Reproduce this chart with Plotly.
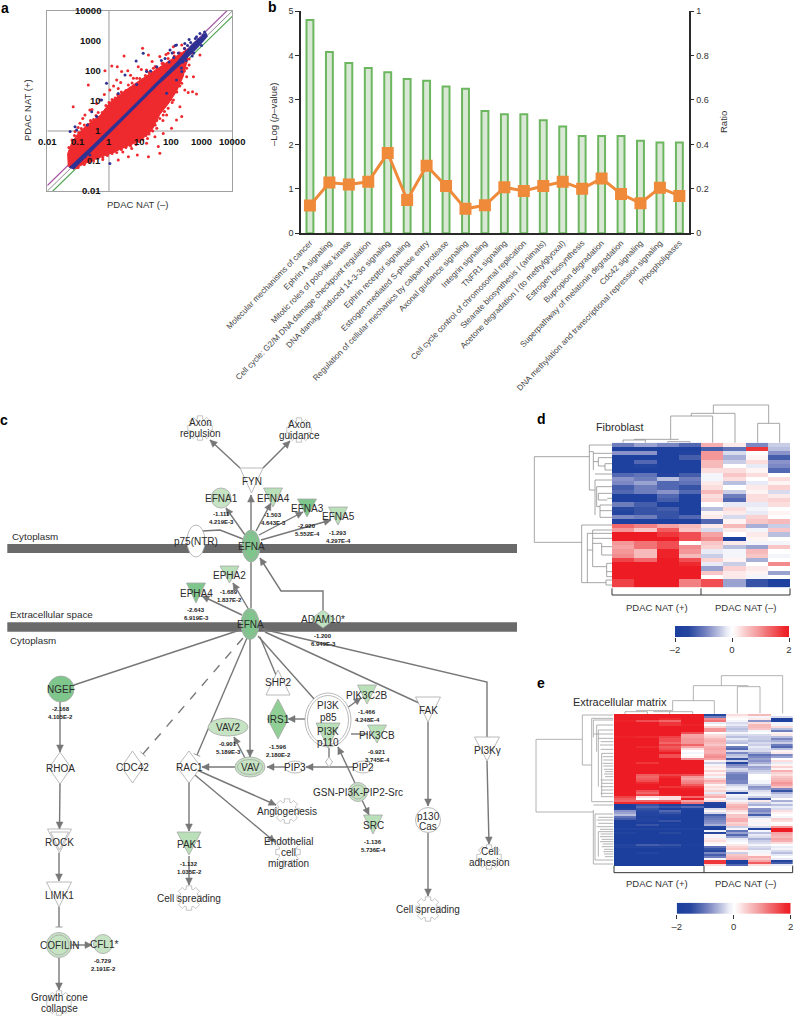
import math
import plotly.graph_objects as go

W, H = 794, 1017
FONT = "Liberation Sans"

# ---------- panel a (log10 values) ----------
CLOUD_LX = [-1.32,-1.34,-1.23,-1.05,-0.72,-0.29,0.03,0.46,0.90,1.22,1.65,1.98,2.2,2.5,2.55,2.4,2.19,1.92,1.65,1.38,1.0,0.57,0.03,-0.51,-0.94,-1.16]
CLOUD_LY = [-1.19,-0.76,-0.45,-0.14,0.2,0.52,0.95,1.3,1.62,1.85,2.13,2.36,2.5,2.7,2.4,1.8,1.32,0.9,0.55,0.0,-0.33,-0.52,-0.76,-0.96,-1.17,-1.27]
BAND_LX = [-1.30,-0.5,0.5,1.5,2.2,2.7,3.15,3.2,2.85,2.3,1.6,0.6,-0.4,-1.15]
BAND_LY = [-1.22,-0.45,0.55,1.56,2.3,2.9,3.28,3.15,2.74,2.2,1.54,0.52,-0.5,-1.28]
RED_LX = [1.09,-.13,.09,.27,.41,.61,.49,-.67,-1.16,.25,.79,.95,1.28,1.22,1.65,1.92,2.09,2.36,-.29,-.62,-.78,-.94,-1.1,.03,.3,.63,.9,1.44,1.76,
          2.36,2.57,2.71,2.84,2.52,2.74,2.95,2.09,1.92,1.87,1.55,1.65,1.6,1.22,1.28,.92,.63,.74,.3,1.49,1.76,2.03,2.19,1.76,1.55,2.3,2.46,2.36,2.52,
          -1.0,-.85,-.55,-.4,-.15,.15,.38,.7,1.05,1.4,1.55,1.85,2.1,2.45,2.6,2.0,1.75,1.45,1.2,.85,.45,.15,-.2,-.7,-1.05,
          -1.3,-1.2,-1.12,-.98,-.9,-.8,-.68,-.6,-.5,-.42,-.35,-.22,-.1,0,.1,.2,.28,.4,.55,.62,.75,.82,1.0,1.1,1.18,1.3,1.42,1.5,1.6,1.72,1.8,1.92,2.0,2.12,2.2,2.3,2.4,2.55,
          2.7,2.6,2.5,2.45,2.35,2.3,2.25,2.2,2.1,2.0,2.05,1.9,1.8,1.72,1.65,1.55,1.5,1.42,1.3,1.25,1.1,.98,.88,.7,.55,.4,.25,.1,-.05,-.2,-.35,-.5,-.62,-.8,-1.0]
RED_LY = [2.76,2.01,2.17,2.14,1.98,2.01,2.5,1.53,.81,1.7,1.76,2.14,2.53,2.03,2.48,2.59,2.81,2.87,1.03,.7,.53,.26,-.02,1.37,1.42,1.53,1.76,2.09,2.26,
          .48,1.28,1.31,1.23,1.81,1.81,2.53,1.03,.76,.53,.09,-.74,-.52,-.41,-.86,-.8,-.86,-.58,-.97,-.19,-.08,.09,.37,.53,.7,.81,1.37,1.59,2.09,
          .12,.42,.72,.92,1.22,1.5,1.62,1.86,2.05,2.32,2.1,2.55,2.62,2.75,2.2,1.05,.35,.2,-.15,-.25,-.7,-.68,-.95,-1.0,-1.22,
          -.55,-.3,-.15,-.05,.08,.2,.22,.35,.38,.52,.62,.62,.85,.95,1.05,1.1,1.22,1.3,1.35,1.28,1.6,1.5,1.75,1.7,1.85,1.95,1.95,2.15,2.05,2.25,2.18,2.42,2.3,2.5,2.42,2.6,2.55,2.7,
          2.6,2.4,2.3,2.0,1.85,1.5,1.7,1.3,1.35,1.2,.95,.95,.65,.8,.42,.35,.2,0,-.1,-.25,-.28,-.35,-.45,-.5,-.55,-.62,-.72,-.75,-.82,-.88,-.9,-1.0,-1.02,-1.12,-1.22]
BLUE_LX = [1.11,.88,-.08,.52,-.24,-.56,-.4,-1.05,-1.26,-1.1,1.22,1.55,1.82,1.98,2.19,2.46,2.52,2.84,3.06,.03,-.78,1.87,2.19,2.36,-.62,
           .9,.3,-.7,1.35,1.7,2.05,2.6,2.7,2.95,3.0,2.35,2.15,2.25,2.45,2.55,2.65,2.8,2.9,3.1,2.4,2.5,2.75,1.95,2.1]
BLUE_LY = [2.59,2.33,1.59,1.87,1.03,.64,.48,.03,-.02,.14,1.98,2.14,2.42,2.7,2.87,2.92,2.64,3.14,3.2,-1.08,-.86,1.26,1.7,1.98,-.8,
           1.55,1.25,.2,2.0,2.35,2.6,3.05,2.5,3.25,2.85,2.1,2.85,2.6,2.75,2.85,2.95,3.08,3.05,3.3,2.3,2.35,2.6,2.3,2.45]
A_TICKS = [0.01, 0.1, 1, 10, 100, 1000, 10000]
FOLD = 0.18

# ---------- panel b ----------
PATHWAYS = ["Molecular mechanisms of cancer","Ephrin A signaling","Mitotic roles of polo-like kinase",
 "Cell cycle: G2/M DNA damage checkpoint regulation","DNA damage-induced 14-3-3σ signaling","Ephrin receptor signaling",
 "Estrogen-mediated S-phase entry","Regulation of cellular mechanics by calpain protease","Axonal guidance signaling",
 "Integrin signaling","TNFR1 signaling","Cell cycle control of chromosomal replication","Stearate biosynthesis I (animals)",
 "Acetone degradation I (to methylglyoxal)","Estrogen biosynthesis","Bupropion degradation",
 "Superpathway of melatonin degradation","Cdc42 signaling","DNA methylation and transcriptional repression signaling","Phospholipases"]
LOGP = [4.8,4.08,3.83,3.72,3.62,3.47,3.43,3.3,3.25,2.75,2.68,2.68,2.54,2.4,2.19,2.19,2.19,2.08,2.04,2.04]
RATIO = [.125,.228,.22,.232,.361,.15,.304,.213,.11,.126,.207,.19,.213,.232,.2,.247,.177,.135,.205,.168]

# ---------- panel d ----------
D_ROWS = [
[-1.0,-.7,-.9,-1.2,.7,.2,-.9,-.4],[-1.9,-1.8,-1.9,-1.9,-1.3,-1.1,1.7,-.5],[-.8,-.8,-1.9,-1.7,.9,-.3,0,-.8],
[-1.9,-1.9,-1.9,-1.3,.9,-.6,.1,-1.3],[-1.9,-1.2,-1.9,-1.9,.6,-.4,.3,-.8],[-1.9,-1.6,-1.9,-1.9,.6,0,-.2,-.9],
[-1.9,-1.9,-1.9,-1.9,.3,.3,.1,-1.2],[-1.2,-1.1,-1.7,-1.3,-.1,.5,.3,0],[-.8,-1.0,-.5,-1.0,-.1,.3,0,.3],
[-.9,-.7,-1.2,-1.1,.2,-.5,-.2,.1],[-1.3,-1.0,-1.2,-1.4,.3,0,.2,.4],[-1.2,-1.0,-.8,-1.2,.6,-.4,.1,-.3],
[-1.9,-1.9,-1.2,-1.9,.3,-1.0,.3,.2],[-1.9,-1.9,-1.3,-1.9,.4,-1.2,.3,.4],[-1.0,-1.3,-1.9,-1.9,0,-.2,-.2,.3],
[-1.5,-1.4,-1.3,-1.9,-.5,.3,-.1,0],[-1.6,-1.4,-1.4,-1.9,.1,.2,-.2,.1],[-.9,-1.0,-1.4,-1.2,.2,-.3,.4,0],
[-1.9,-1.9,-1.9,-1.9,-1.2,.1,.5,.6],[1.3,1.1,.8,.6,.2,.6,-.6,-.4],[.9,.5,1.4,.5,-.3,.2,-.1,.5],
[2,2,1.7,1.5,.8,0,.2,-.5],[2,2,2,1.5,1.0,-1.9,.1,0],[.9,1.2,1.5,0,.5,.2,-.1,-.1],
[.8,1.2,1.5,1.0,.4,-.5,-.7,.5],[.9,.6,1.9,.9,-.2,-.1,.6,0],[1.0,.6,1.9,.6,-.4,-.1,.5,-.1],
[1.6,1.3,2,1.5,.4,.1,-.6,0],[2,2,2,1.8,-.2,-.4,0,1.0],[2,2,2,2,-.7,.4,.2,0],
[2,2,2,2,.5,.2,.1,-.7],[2,2,2,2,0,.2,-.1,0],[1.6,2,2,1.1,1.5,-.7,-1.4,-1.9],[1.6,2,2,1.1,1.5,-.7,-1.4,-1.9]]

# ---------- panel e (tenths) ----------
E_ROWS = [
[20,20,20,20,-15,3,6,0],[20,20,20,20,-10,1,-1,-3],[20,20,18,20,10,0,2,-19],[19,15,13,20,12,-1,-8,-19],
[20,20,17,20,-2,-3,3,-1],[20,20,17,19,0,-2,6,-1],[20,20,20,20,4,-4,6,3],[20,20,20,20,9,-5,5,-5],
[20,20,20,20,9,-4,-1,-10],[20,20,20,15,0,-1,0,1],[20,20,20,8,3,-3,-3,2],[19,18,16,8,4,-5,-4,-5],
[20,20,15,9,6,-2,-4,-9],[20,20,15,9,7,-4,-5,-6],[20,20,13,9,6,-5,-3,-4],[20,20,16,13,5,0,-4,-10],
[20,18,14,8,7,-10,-2,-12],[20,20,15,3,8,-12,-3,-5],[20,20,17,0,7,-3,-3,1],[20,20,20,-1,7,-9,-6,2],
[20,20,15,0,9,-5,-11,-9],[20,20,15,1,10,-4,-9,-7],[20,20,20,10,8,-14,-7,0],[20,20,20,20,1,-4,-8,3],
[20,17,20,20,-4,-16,-6,-2],[20,20,20,20,-1,-9,-3,1],[20,20,20,20,2,-7,-7,4],[20,20,20,20,1,-3,-6,1],
[20,20,20,20,4,-4,-4,7],[20,20,20,20,1,-8,-3,4],[20,14,16,15,3,-10,0,3],[20,13,18,9,-1,-10,0,5],
[20,14,20,8,4,-10,0,6],[20,15,20,10,7,-9,-1,7],[20,18,20,11,5,-9,-1,9],[20,20,20,14,1,-4,-4,8],
[20,20,17,17,3,-2,-8,5],[20,20,20,19,2,-1,-7,-9],[20,15,20,20,4,-3,-3,-14],[20,13,20,20,-2,-15,-2,-6],
[20,16,19,20,5,-1,-1,-3],[16,3,3,13,7,-2,-4,-3],[14,0,3,20,1,-3,-13,0],[13,13,13,8,3,-1,2,-6],
[18,19,20,12,-16,3,-4,-2],[-20,-14,-18,-16,-18,6,-6,-5],[-20,-12,-14,-12,-18,7,-1,-2],[-18,-14,-20,-18,-3,6,-8,-3],
[-8,-15,-12,-20,1,3,-9,3],[-7,-16,-14,-20,-3,1,-7,1],[-5,-16,-17,-20,-13,5,-13,0],[-11,-18,-19,-20,-11,5,-4,-1],
[-13,-16,-20,-20,-10,7,-1,4],[-20,-17,-14,-20,-9,7,1,3],[-20,-20,-20,-20,-8,4,-1,0],[-20,-14,-19,-20,-6,5,1,1],
[-20,-20,-20,-20,-16,-4,-3,9],[-17,-17,-17,-17,-20,-1,-16,20],[-20,-20,-20,-20,-1,-11,-1,20],[-16,-20,-15,-20,-15,-7,-5,8],
[-20,-20,-20,-20,1,-12,-2,7],[-20,-20,-20,-20,-1,-7,-3,6],[-20,-20,-20,-20,2,-2,-6,8],[-20,-20,-20,-20,3,-1,-4,7],
[-20,-20,-20,-20,1,0,-3,3],[-16,-13,-14,-19,0,2,-1,0],[-17,-16,-16,-20,-11,4,-3,-2],[-20,-20,-20,-20,-14,5,-4,-1],
[-20,-20,-20,-20,-15,1,-1,-3],[-20,-16,-20,-20,-9,-4,-1,-5],[-20,-20,-20,-20,-13,5,1,-2],[-20,-20,-20,-20,-10,6,7,0],
[-20,-20,-20,-20,-1,7,5,-2],[-20,-20,-20,-20,17,-18,8,-16],[-20,-20,-20,-20,17,-19,14,-13],[-20,-20,-20,-20,3,-12,3,-2]]
SCALE_VALUES = [-2,-1.8,-1.6,-1.4,-1.2,-1,-.8,-.6,-.4,-.2,-.1,0,.1,.2,.4,.6,.8,1,1.2,1.4,1.6,1.8,2]
COLORSCALE = [[0,"#1c3f9e"],[.12,"#26469f"],[.3,"#8a93c9"],[.45,"#e8eaf5"],[.5,"#ffffff"],[.55,"#fce9e9"],[.75,"#f28b8d"],[.95,"#ee2a2f"],[1,"#ed1c24"]]

# ---------- panel c: pathway nodes ----------
MID, LIGHT, PALE = "#7fc68c", "#b9e0b8", "#c6e3c4"
# name, kind, x, y, half-width, half-height, fill
NODES = [
("FYN","tri",251.5,468,11.5,25,"#fff"),("EFNA1","circle",221,498,10,10,PALE),("EFNA4","tri",273,488,9.5,19,LIGHT),
("EFNA3","tri",307,499,9.5,18,MID),("EFNA5","tri",338,507,9.5,18,LIGHT),("p75(NTR)","ell",196,541,9,16,"#fff"),
("EFNA","ell2",251,546,9,16,MID),("EPHA2","tri",229.5,566,9.5,17,LIGHT),("EPHA4","tri",196,583,9.5,20,MID),
("EFNA","ell2",250,624,9,15.5,MID),("ADAM10*","dia",323,619,12,9,"#bfe3c0"),("NGEF","circle",61,689,13,13,MID),
("SHP2","triup",278,670,12,25,"#fff"),("PIK3C2B","tri",367,685,9.5,19,LIGHT),("IRS1","dia",278,719,10.5,20,"#8fcf95"),
("PIK3CB","tri",377,725,9.5,18,LIGHT),("FAK","tri",428,697,12.5,25,"#fff"),("PI3Kγ","tri",487,737,12.5,24,"#fff"),
("VAV2","ell",228,727,20,9,PALE),("VAV","ell2",250,767,15,10,PALE),("RAC1","dia",189,767,12,16,"#fff"),
("CDC42","dia",132.5,767,11,16,"#fff"),("RHOA","dia",60,768,11,16,"#fff"),("ROCK","tri2",59.5,829,12,24,"#fff"),
("LIMK1","tri",59,882,12.5,25,"#fff"),("COFILIN","circle2",59,945,12.5,12.5,PALE),("CFL1*","circle",103,944,9.5,9.5,PALE),
("PAK1","tri",189,832,12,23,LIGHT),("PIP3","ell",295,767,10,6,"#fff"),("PIP2","ell",363,767,10,6,"#fff"),
("","dia",329,762,3.5,5,"#fff"),("GSN-PI3K-PIP2-Src","circle2",358,792,9.5,9.5,PALE),("SRC","tri",373,815,9.5,19,LIGHT),
("","ell2",328,720,23,27,"#fff"),("","tri",328,723,12,25,LIGHT),
]
LABEL_OFFSETS = {"FYN":(0,13),"EFNA4":(0,10),"EFNA3":(0,9),"EFNA5":(0,9),"EPHA2":(0,9),"EPHA4":(0,10),"SHP2":(0,12),
 "PIK3C2B":(-1,10),"PIK3CB":(0,10),"FAK":(0,13),"PI3Kγ":(0,13),"ROCK":(0,13),"LIMK1":(0,13),"PAK1":(0,12),"SRC":(0,10),"CFL1*":(1,0)}
STATS = [("-1.111","4.219E-3",221,514),("-1.503","4.643E-3",273,515),("-2.920","5.552E-4",307,526),("-1.293","4.297E-4",338,533),
 ("-1.689","1.837E-2",229,592),("-2.643","6.919E-3",196,610),("-1.200","6.949E-3",323,636),("-2.168","4.105E-2",60.5,709),
 ("-1.466","4.248E-4",367,712),("-1.596","2.180E-2",278,747),("-0.921","3.745E-4",377,752),("-0.901","5.189E-3",228,744),
 ("-0.729","2.191E-2",103,961),("-1.132","1.035E-2",189,864),("-1.136","5.736E-4",373,842)]
FUNCTIONS = [(["Axon","repulsion"],200,428),(["Axon","guidance"],299,430),(["Cell spreading"],189,898),(["Cell spreading"],428,909),
 (["Angiogenesis"],287,811),(["Endothelial","cell","migration"],288,852),(["Cell","adhesion"],489,857),(["Growth cone","collapse"],59,1003)]
# points of an edge, end kind
EDGES = [
([(251,608),(251,562)],None),([(251,530),(251,495)],"a"),([(240,468),(210,440)],"a"),([(263,468),(290,441)],"a"),
([(245,535),(226,508)],"a"),([(256,531),(271,503)],"a"),([(259,535),(303,512)],"a"),([(261,540),(331,520)],"a"),
([(202,531),(220,530),(243,539)],None),([(249,610),(233,583)],"a"),([(242,615),(202,596)],"a"),
([(323,610),(323,591),(281,591),(260,558)],"a"),([(240,630),(74,685)],None),([(60,702),(60,752)],"a"),
([(60,783),(59.5,829)],"a"),([(59,853),(59,881)],"a"),([(59,907),(59,927)],"t"),([(59,958),(59,990)],"a"),([(72,945),(92,945)],"a"),
([(243,638),(143,754)],"td"),([(247,638),(197,755)],"t"),([(250,639),(250,757)],"a"),([(245,758),(234,737)],"a"),
([(236,767),(202,767)],"a"),([(285,767),(267,767)],"a"),([(353,767),(306,767)],"a"),([(189,782),(189,831)],"a"),
([(189,856),(189,885)],"a"),([(197,770),(276,805)],"a"),([(195,775),(275,842)],"a"),([(260,637),(276,675)],None),
([(258,636),(315,700)],None),([(265,632),(419,703)],None),([(262,629),(487,682),(487,737)],None),([(305,719),(288,719)],"a"),
([(347,708),(361,698)],"a"),([(368,734),(351,734)],None),([(329,748),(329,757)],None),
([(355,783),(338,747)],"a"),([(362,800),(369,815)],"a"),([(428,722),(428,806)],"a"),([(428,833),(428,896)],"a"),([(487,761),(489,844)],"a"),
]

# ---------- dendrogram segments, in zoom-crop units (3 per px) ----------
D_TREE = [(279,150,346,150),(279,150,279,158),(346,150,346,158),(413,155,480,155),(413,155,413,158),(480,155,480,158),(312,148,446,148),
 (422,78,548,78),(422,78,422,148),(548,78,548,158),(484,70,615,70),(484,70,484,78),(615,70,615,158),(550,45,716,45),(550,45,550,70),(716,45,716,100),
 (683,100,749,100),(683,100,683,158),(749,100,749,158),
 (13,200,13,457),(13,200,178,200),(13,457,155,457),(178,165,178,300),(178,165,246,165),(178,300,195,300),(190,185,190,240),(178,185,190,185),
 (190,190,246,190),(190,215,205,215),(205,203,205,228),(205,203,246,203),(205,228,225,228),(225,221,225,240),(225,221,246,221),(225,240,246,240),
 (195,270,195,375),(195,270,246,270),(195,252,246,252),(200,290,200,350),(200,290,246,290),(205,310,205,330),(205,310,246,310),(232,325,246,325),(205,330,232,330),
 (200,350,210,350),(210,345,210,382),(210,345,246,345),(210,362,246,362),(210,382,246,382),
 (155,405,155,578),(155,405,246,405),(155,578,172,578),(172,430,172,578),(172,430,246,430),(172,578,228,578),(228,570,228,585),(228,570,246,570),(228,585,246,585),
 (172,480,188,480),(188,420,188,530),(188,420,246,420),(188,445,246,445),(188,460,215,460),(215,460,215,495),(215,470,246,470),(215,495,246,495),
 (188,530,230,530),(230,520,230,560),(230,520,246,520),(230,545,246,545),(230,560,246,560)]
E_TREE = [(285,155,352,155),(285,155,285,162),(352,155,352,162),(370,155,488,155),(419,155,419,162),(488,155,488,162),(318,152,428,152),
 (428,122,553,122),(428,122,428,152),(553,122,553,162),(490,77,655,77),(490,77,490,122),(622,80,690,80),(622,80,622,160),(690,80,690,160),
 (574,47,758,47),(574,47,574,77),(758,47,758,160),
 (18,238,18,456),(18,238,157,238),(18,456,190,456),(157,165,157,315),(157,165,250,165),(157,315,185,315),(185,175,185,425),(185,175,250,175),(185,425,250,425),
 (190,180,250,180),(190,180,190,232),(200,195,250,195),(200,195,200,275),(205,210,250,210),(205,235,250,235),(205,210,205,380),(210,255,250,255),(215,280,250,280),
 (215,280,215,410),(220,300,250,300),(220,318,250,318),(225,335,250,335),(225,350,250,350),(215,370,250,370),(215,390,250,390),(215,410,250,410),
 (190,222,250,222),(212,245,250,245),(212,268,250,268),(218,290,250,290),(218,310,250,310),(222,328,250,328),(222,342,250,342),(212,360,250,360),(212,380,250,380),(212,400,250,400),
 (190,450,190,612),(190,435,250,435),(195,462,250,462),(195,462,195,600),(200,480,250,480),(200,500,250,500),(205,515,250,515),(205,515,205,590),(210,530,250,530),
 (210,545,250,545),(215,560,250,560),(220,575,250,575),(225,590,250,590),(190,612,250,612),(195,600,250,600),(205,472,250,472),(205,490,250,490),(210,508,250,508),(212,522,250,522),(215,538,250,538),(218,552,250,552),(222,568,250,568),(222,582,250,582)]

# ---------- helpers ----------
fig = go.Figure()
OV = dict(xref="x8", yref="y8")
shapes, notes = [], []
def dom(a, b, n): return [a / n, b / n]
def ydom(t, b): return [1 - b / H, 1 - t / H]
def T(x, y, s, size=10, color="#2b2b2b", bold=False, anchor="center", angle=0):
    notes.append(dict(x=x, y=y, text=f"<b>{s}</b>" if bold else s, showarrow=False, xanchor=anchor, yanchor="middle",
                      textangle=angle, font=dict(family=FONT, size=size, color=color), **OV))
def P(d, fill, line="#a8a8a8", w=.8):
    shapes.append(dict(type="path", path=d, fillcolor=fill, line=dict(color=line, width=w), layer="above", **OV))
def poly(pts): return "M" + "L".join(f"{x:.1f},{y:.1f}" for x, y in pts) + "Z"
def ell(x, y, a, b, fill, line="#a8a8a8", w=.8):
    shapes.append(dict(type="circle", x0=x-a, x1=x+a, y0=y-b, y1=y+b, fillcolor=fill, line=dict(color=line, width=w), layer="above", **OV))
def gear(cx, cy, r=12.5, teeth=8):
    pts = []
    for i in range(teeth):
        c = 2 * math.pi * i / teeth
        for k, rr in ((-.30, r * .74), (-.22, r), (.22, r), (.30, r * .74)):
            pts.append((cx + rr * math.cos(c + k), cy + rr * math.sin(c + k)))
    P(poly(pts), "#fff", "#b5b5b5", .8)

# ---------- panel a ----------
LA = dict(xaxis="x", yaxis="y", showlegend=False, hoverinfo="skip")
pw = lambda v: [10 ** q for q in v]
fig.add_trace(go.Scatter(x=pw([-2, 4]), y=pw([-2, 4]), mode="lines", line=dict(color="#8c8c8c", width=1), **LA))
fig.add_trace(go.Scatter(x=pw([-2, 4]), y=pw([-2 + FOLD, 4 + FOLD]), mode="lines", line=dict(color="#a4509f", width=1.2), **LA))
fig.add_trace(go.Scatter(x=pw([-2, 4]), y=pw([-2 - FOLD, 4 - FOLD]), mode="lines", line=dict(color="#4fa650", width=1.2), **LA))
fig.add_trace(go.Scatter(x=[.01, 10000], y=[1, 1], mode="lines", line=dict(color="#9a9a9a", width=1), **LA))
fig.add_trace(go.Scatter(x=[1, 1], y=[.01, 10000], mode="lines", line=dict(color="#9a9a9a", width=1), **LA))
fig.add_trace(go.Scatter(x=pw(CLOUD_LX), y=pw(CLOUD_LY), mode="lines", fill="toself", fillcolor="#ee2a2f", line=dict(color="#ee2a2f", width=1), **LA))
fig.add_trace(go.Scatter(x=pw(RED_LX), y=pw(RED_LY), mode="markers", marker=dict(color="#ee2a2f", size=3), **LA))
fig.add_trace(go.Scatter(x=pw(BLUE_LX), y=pw(BLUE_LY), mode="markers", marker=dict(color="#2e3192", size=3), **LA))
fig.add_trace(go.Scatter(x=pw(BAND_LX), y=pw(BAND_LY), mode="lines", fill="toself", fillcolor="#2e3192", line=dict(color="#2e3192", width=.5), **LA))
fig.update_layout(
    xaxis=dict(type="log", range=[-2, 4], domain=dom(47.3, 232.3, W), showgrid=False, zeroline=False, showticklabels=False, ticks="", mirror=True, showline=True, linecolor="#a0a0a0", linewidth=1, anchor="y"),
    yaxis=dict(type="log", range=[-2, 4], domain=ydom(11, 191), showgrid=False, zeroline=False, showticklabels=False, ticks="", mirror=True, showline=True, linecolor="#a0a0a0", linewidth=1, anchor="x"))
for v in A_TICKS:
    notes.append(dict(x=math.log10(v), y=0, xref="x", yref="y", yshift=-11, text=f"<b>{v}</b>", showarrow=False,
                      font=dict(family=FONT, size=9.5, color="#111")))
    notes.append(dict(x=0, y=math.log10(v), xref="x", yref="y", xshift=-6, xanchor="right", text=f"<b>{v}</b>", showarrow=False,
                      font=dict(family=FONT, size=9.5, color="#111")))
T(27, 110, "PDAC NAT (+)", 9.5, "#333", angle=-90)
T(137, 204, "PDAC NAT (–)", 9.5, "#333")

# ---------- panel b ----------
idx = list(range(len(PATHWAYS)))
fig.add_trace(go.Bar(x=idx, y=LOGP, width=.355, marker=dict(color="#d9e8d5", line=dict(color="#6cb65f", width=2)), xaxis="x2", yaxis="y2", showlegend=False, hoverinfo="skip"))
fig.add_trace(go.Scatter(x=idx, y=RATIO, mode="lines+markers", line=dict(color="#ee8a3a", width=3), marker=dict(symbol="square", size=12, color="#ee8a3a"), xaxis="x2", yaxis="y3", showlegend=False, hoverinfo="skip"))
axl = dict(showgrid=False, zeroline=False, showline=True, linecolor="#2a2a2a", linewidth=1.5, ticks="outside", ticklen=4, tickwidth=1.2, tickcolor="#2a2a2a",
           tickfont=dict(family=FONT, size=9, color="#333"), automargin=False)
fig.update_layout(
    xaxis2=dict(range=[-.46, 19.48], domain=dom(301, 688.7, W), anchor="y2", tickmode="array", tickvals=idx, ticktext=PATHWAYS, tickangle=-46,
                showgrid=False, zeroline=False, showline=True, linecolor="#2a2a2a", linewidth=1.5, ticks="", tickfont=dict(family=FONT, size=8.2, color="#444"), automargin=False),
    yaxis2=dict(range=[0, 5], domain=ydom(11, 233.3), anchor="x2", tickvals=[0,1,2,3,4,5], **axl),
    yaxis3=dict(range=[0, 1], domain=ydom(11, 233.3), anchor="x2", overlaying="y2", side="right", tickvals=[0,.2,.4,.6,.8,1], ticktext=["0","0.2","0.4","0.6","0.8","1"], **axl))
T(273, 115, "–Log (<i>p</i>–value)", 9.5, "#333", angle=-90)
T(723, 122, "Ratio", 9.5, "#333", angle=-90)

# ---------- panels d, e ----------
X_COLS = list(range(8))
fig.add_trace(go.Heatmap(z=D_ROWS, x=X_COLS, y=list(range(len(D_ROWS))), zmin=-2, zmax=2, colorscale=COLORSCALE, showscale=False, xaxis="x4", yaxis="y4", hoverinfo="skip"))
fig.add_trace(go.Heatmap(z=[[v / 10 for v in r] for r in E_ROWS], x=X_COLS, y=list(range(len(E_ROWS))), zmin=-2, zmax=2, colorscale=COLORSCALE, showscale=False, xaxis="x5", yaxis="y5", hoverinfo="skip"))
fig.add_trace(go.Heatmap(z=[SCALE_VALUES], x=SCALE_VALUES, y=[0], zmin=-2, zmax=2, colorscale=COLORSCALE, showscale=False, zsmooth="best", xaxis="x6", yaxis="y6", hoverinfo="skip"))
fig.add_trace(go.Heatmap(z=[SCALE_VALUES], x=SCALE_VALUES, y=[0], zmin=-2, zmax=2, colorscale=COLORSCALE, showscale=False, zsmooth="best", xaxis="x7", yaxis="y7", hoverinfo="skip"))
hide = dict(showgrid=False, zeroline=False, showticklabels=False, ticks="", showline=False)
cbx = dict(range=[-2, 2], tickvals=[-2, 0, 2], ticktext=["–2", "0", "2"], ticks="outside", ticklen=4, tickwidth=1, tickcolor="#333", showgrid=False, zeroline=False,
           tickfont=dict(family=FONT, size=9.5, color="#333"), showline=False)
fig.update_layout(
    xaxis4=dict(domain=dom(612, 790, W), range=[-.5, 7.5], anchor="y4", **hide),
    yaxis4=dict(domain=ydom(442.7, 587.3), range=[len(D_ROWS) - .5, -.5], anchor="x4", **hide),
    xaxis5=dict(domain=dom(614, 792.7, W), range=[-.5, 7.5], anchor="y5", **hide),
    yaxis5=dict(domain=ydom(714, 866), range=[len(E_ROWS) - .5, -.5], anchor="x5", **hide),
    xaxis6=dict(domain=dom(675, 789, W), anchor="y6", **cbx),
    yaxis6=dict(domain=ydom(626, 637), anchor="x6", range=[-.5, .5], **hide),
    xaxis7=dict(domain=dom(676.7, 790.7, W), anchor="y7", **cbx),
    yaxis7=dict(domain=ydom(902.7, 914), anchor="x7", range=[-.5, .5], **hide),
    xaxis8=dict(domain=[0, 1], range=[0, W], anchor="y8", **hide),
    yaxis8=dict(domain=[0, 1], range=[H, 0], anchor="x8", **hide))
def tree(segs, ox, oy, color, w):
    xs, ys = [], []
    for a, b, c, d in segs:
        xs += [ox + a / 3, ox + c / 3, None]
        ys += [oy + b / 3, oy + d / 3, None]
    fig.add_trace(go.Scatter(x=xs, y=ys, mode="lines", line=dict(color=color, width=w), xaxis="x8", yaxis="y8", showlegend=False, hoverinfo="skip"))
tree(D_TREE, 530, 390, "#8f8f8f", .8)
tree(E_TREE, 530, 660, "#a0a0a0", .8)
tree([(246,595,246,615),(246,615,780,615),(513,595,513,615),(780,595,780,615)], 530, 390, "#333", 1)
tree([(252,617,252,638),(252,638,788,638),(522,617,522,638),(788,617,788,638)], 530, 660, "#333", 1)
T(594, 427, "Fibroblast", 10.8, anchor="left")
T(571, 702, "Extracellular matrix", 11, anchor="left")
for yy in (607, 883):
    T(657, yy, "PDAC NAT (+)", 9.5, "#333")
    T(745, yy, "PDAC NAT (–)", 9.5, "#333")

# ---------- panel c ----------
for y0, y1 in ((544, 553), (622.3, 631.7)):
    shapes.append(dict(type="rect", x0=7.3, x1=517, y0=y0, y1=y1, fillcolor="#6a6a6a", line=dict(width=0), layer="above", **OV))
T(10, 536, "Cytoplasm", 9.8, anchor="left")
T(7.5, 614, "Extracellular space", 9.8, anchor="left")
T(8, 640, "Cytoplasm", 9.8, anchor="left")
EC = "#777777"
for pts, end in EDGES:
    path = "M" + "L".join(f"{x},{y}" for x, y in pts)
    shapes.append(dict(type="path", path=path, line=dict(color=EC, width=1.4, dash="dash" if end == "td" else "solid"), layer="above", **OV))
    (x0, y0), (x1, y1) = pts[-2], pts[-1]
    L = math.hypot(x1 - x0, y1 - y0) or 1
    ux, uy = (x1 - x0) / L, (y1 - y0) / L
    if end == "a":
        P(poly([(x1, y1), (x1 - 7 * ux - 3.4 * uy, y1 - 7 * uy + 3.4 * ux), (x1 - 7 * ux + 3.4 * uy, y1 - 7 * uy - 3.4 * ux)]), EC, EC, .5)
    elif end in ("t", "td"):
        shapes.append(dict(type="line", x0=x1 - 3.5 * uy, y0=y1 + 3.5 * ux, x1=x1 + 3.5 * uy, y1=y1 - 3.5 * ux, line=dict(color="#999", width=1), layer="above", **OV))
for name, kind, x, y, a, b, fill in NODES:
    if kind in ("tri", "tri2"):
        P(poly([(x - a, y), (x + a, y), (x, y + b)]), fill)
        if kind == "tri2":
            P(poly([(x - a + 3, y + 3), (x + a - 3, y + 3), (x, y + b - 3)]), fill)
    elif kind == "triup":
        P(poly([(x - a, y + b), (x + a, y + b), (x, y)]), fill)
    elif kind == "dia":
        P(poly([(x - a, y), (x, y - b), (x + a, y), (x, y + b)]), fill)
    else:
        ell(x, y, a, b, fill)
        if kind in ("ell2", "circle2"):
            ell(x, y, a - 2.5, b - 2.5, fill)
    if name:
        dx, dy = LABEL_OFFSETS.get(name, (0, 0))
        T(x + dx, y + dy, name)
T(328, 705, "PI3K"); T(328, 717, "p85"); T(328, 731, "PI3K"); T(328, 742, "p110")
ell(428, 820, 12.5, 12.5, "#fff"); T(428, 816, "p130"); T(428, 826, "Cas")
for lines, x, y in FUNCTIONS:
    gear(x, y)
    top = y - 5.5 * (len(lines) - 1)
    for i, s in enumerate(lines):
        T(x, top + 11 * i, s)
for a, b, x, y in STATS:
    T(x, y, a, 6, "#222", bold=True)
    T(x, y + 7.6, b, 6, "#222", bold=True)

# ---------- panel letters ----------
for s, x, y in (("a", 5, 8), ("b", 272, 7), ("c", 4, 420), ("d", 541, 419), ("e", 541, 683)):
    T(x, y, s, 14, "#000", bold=True)

fig.update_layout(width=W, height=H, margin=dict(l=0, r=0, t=0, b=0, autoexpand=False), paper_bgcolor="#fff", plot_bgcolor="rgba(0,0,0,0)",
                  autosize=False, shapes=shapes, annotations=notes, font=dict(family=FONT), showlegend=False)
fig.write_html("out.html", config=dict(displayModeBar=False), post_script="document.body.style.margin='0';")
